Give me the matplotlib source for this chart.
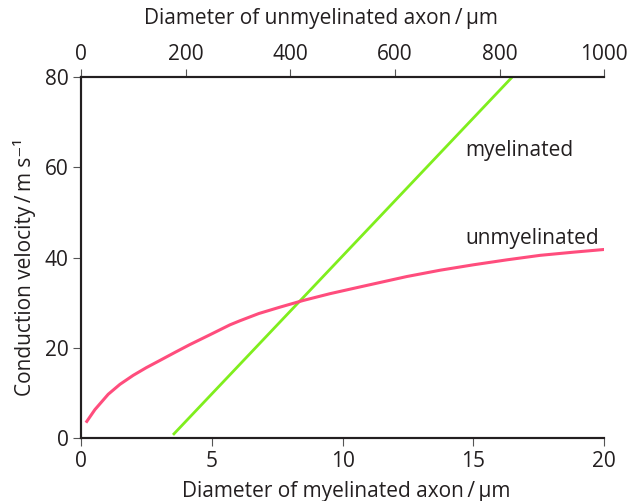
import matplotlib
matplotlib.use("Agg")
import matplotlib.pyplot as plt

plt.rcParams['font.family'] = ['Open Sans', 'DejaVu Sans']

# Myelinated (bottom axis, µm)
myel_x = [3.52, 16.48]
myel_y = [0.7, 80]

# Unmyelinated (top axis, µm)
unmyel_x = [9.6, 26.8, 52.2, 74.6, 100, 125, 151, 180, 208, 245, 285, 304, 340,
            380, 425, 476, 533.5, 622.8, 686.4, 750, 814, 877.6, 941.3, 1000]
unmyel_y = [3.4, 6.3, 9.7, 11.9, 13.9, 15.6, 17.2, 19.0, 20.7, 22.8, 25.1, 26.0, 27.6,
            29.0, 30.5, 32.0, 33.5, 35.8, 37.2, 38.4, 39.5, 40.5, 41.2, 41.8]

bottom_ticks = [0, 5, 10, 15, 20]
top_ticks = [0, 200, 400, 600, 800, 1000]
y_ticks = [0, 20, 40, 60, 80]

FS = 15
TXT = '#231f20'

fig = plt.figure(figsize=(6.32, 5.01), dpi=100)
ax = fig.add_axes([0.128, 0.1257, 0.828, 0.7203])
ax2 = ax.twiny()

ax.plot(myel_x, myel_y, color='#7fee1d', lw=2, solid_capstyle='butt')
ax2.plot(unmyel_x, unmyel_y, color='#ff4d7d', lw=2.2, solid_capstyle='butt',
         solid_joinstyle='round')

ax.set_xlim(0, 20)
ax.set_ylim(0, 80)
ax2.set_xlim(0, 1000)
ax.set_xticks(bottom_ticks)
ax.set_yticks(y_ticks)
ax2.set_xticks(top_ticks)

for a in (ax, ax2):
    a.spines['right'].set_visible(False)
    for s in a.spines.values():
        s.set_linewidth(1.5)
        s.set_color(TXT)
    a.tick_params(labelsize=FS, length=6, width=0.8, colors='#555555', labelcolor=TXT, pad=3)

ax.set_xlabel('Diameter of myelinated axon\u2009/\u2009µm', fontsize=FS, color=TXT, labelpad=7)
ax2.set_xlabel('Diameter of unmyelinated axon\u2009/\u2009µm', fontsize=FS, color=TXT, labelpad=14)
ax.set_ylabel('Conduction velocity\u2009/\u2009m s\u207b\u00b9', fontsize=FS, color=TXT, labelpad=6)
ax.xaxis.label.set_x(0.507)
ax2.xaxis.label.set_x(0.459)
ax.yaxis.label.set_y(0.474)

ax.text(14.68, 63.8, 'myelinated', fontsize=FS, color=TXT, va='center', ha='left')
ax.text(14.68, 44.3, 'unmyelinated', fontsize=FS, color=TXT, va='center', ha='left')

fig.savefig('out.png', dpi=100)
